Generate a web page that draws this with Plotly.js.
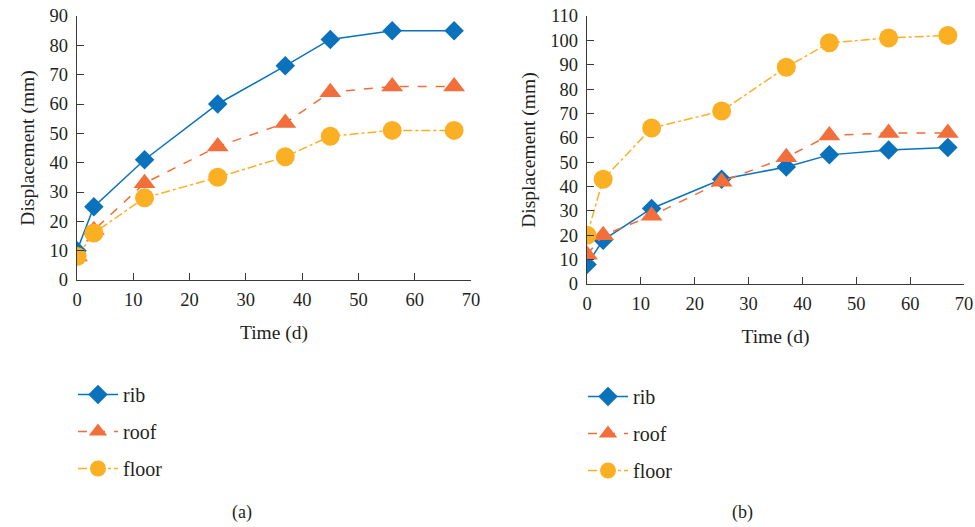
<!DOCTYPE html>
<html>
<head>
<meta charset="utf-8">
<script src="https://cdn.plot.ly/plotly-3.0.1.min.js"></script>
<style>html,body{margin:0;padding:0;background:#fff;}#chart{width:975px;height:527px;}</style>
</head>
<body>
<div id="chart"></div>
<script>
// Data
const timeDays = [0, 3, 12, 25, 37, 45, 56, 67];
// Panel (a)
const ribA   = [10, 25, 41, 60, 73, 82, 85, 85];
const roofA  = [8, 17, 33, 45.5, 53.5, 64, 66, 66];
const floorA = [8, 16, 28, 35, 42, 49, 51, 51];
// Panel (b)
const ribB   = [8, 18, 31, 43, 48, 53, 55, 56];
const roofB  = [12, 20, 28, 42, 52, 61, 62, 62];
const floorB = [20, 43, 64, 71, 89, 99, 101, 102];
const seriesNames = ['rib', 'roof', 'floor'];
const xTitle = 'Time (d)';
const yTitle = 'Displacement (mm)';
const captions = ['(a)', '(b)'];

const FONT = 'Liberation Serif, Times New Roman, serif';
const TXT = '#231f20';
const colors = ['#0a71bd', '#f26e3a', '#fbb024'];
const dashes = ['solid', 'dash', 'dashdot'];
const symbols = ['diamond', 'triangle-up', 'circle'];
const sizes = [15, 19, 19];

function mk(y, i, xa, ya, legend, grp) {
  return {
    x: timeDays, y: y, type: 'scatter', mode: 'lines+markers',
    name: seriesNames[i], xaxis: xa, yaxis: ya, legend: legend,
    legendgroup: grp + i,
    line: {color: colors[i], width: 1.5, dash: dashes[i]},
    marker: {symbol: symbols[i], size: sizes[i], color: colors[i]}
  };
}

const data = [
  mk(ribA, 0, 'x', 'y', 'legend', 'a'),
  mk(roofA, 1, 'x', 'y', 'legend', 'a'),
  mk(floorA, 2, 'x', 'y', 'legend', 'a'),
  mk(ribB, 0, 'x2', 'y2', 'legend2', 'b'),
  mk(roofB, 1, 'x2', 'y2', 'legend2', 'b'),
  mk(floorB, 2, 'x2', 'y2', 'legend2', 'b')
];

const tickFont = {family: FONT, size: 18.5, color: TXT};
function xax(domain, anchor) {
  return {
    domain: domain, anchor: anchor, range: [0, 70], dtick: 10, tick0: 0,
    showgrid: false, zeroline: false, showline: true, linecolor: '#3a3a3a', linewidth: 1.2,
    ticks: 'inside', ticklen: 7, tickcolor: '#3a3a3a', tickwidth: 1,
    tickfont: tickFont, ticklabelstandoff: 3,
    title: {text: xTitle, font: {family: FONT, size: 19.5, color: TXT}, standoff: 16},
    automargin: false, fixedrange: true
  };
}
function yax(domain, anchor, max) {
  return {
    domain: domain, anchor: anchor, range: [0, max], dtick: 10, tick0: 0,
    showgrid: false, zeroline: false, showline: true, linecolor: '#3a3a3a', linewidth: 1.2,
    ticks: 'inside', ticklen: 7, tickcolor: '#3a3a3a', tickwidth: 1,
    tickfont: tickFont, ticklabelstandoff: 4,
    title: {text: yTitle, font: {family: FONT, size: 19.5, color: TXT}, standoff: 9},
    automargin: false, fixedrange: true
  };
}

const legendBase = {
  font: {family: FONT, size: 20, color: TXT},
  bgcolor: 'rgba(0,0,0,0)', borderwidth: 0,
  orientation: 'v', itemwidth: 40, tracegroupgap: 8,
  xanchor: 'left', yanchor: 'top', itemclick: false
};

const layout = {
  width: 975, height: 527,
  margin: {l: 0, r: 0, t: 0, b: 0},
  paper_bgcolor: '#fff', plot_bgcolor: '#fff',
  showlegend: true,
  xaxis: xax([77/975, 471/975], 'y'),
  yaxis: yax([(527-280)/527, (527-16)/527], 'x', 90),
  xaxis2: xax([587/975, 964/975], 'y2'),
  yaxis2: yax([(527-284)/527, (527-16)/527], 'x2', 110),
  legend: Object.assign({}, legendBase, {x: 73/975, y: 1 - 375/527}),
  legend2: Object.assign({}, legendBase, {x: 583/975, y: 1 - 377/527}),
  annotations: [
    {text: captions[0], x: 242/975, y: 1 - 512/527, xref: 'paper', yref: 'paper', showarrow: false,
     font: {family: FONT, size: 18, color: TXT}, xanchor: 'center', yanchor: 'middle'},
    {text: captions[1], x: 742/975, y: 1 - 512/527, xref: 'paper', yref: 'paper', showarrow: false,
     font: {family: FONT, size: 18, color: TXT}, xanchor: 'center', yanchor: 'middle'}
  ]
};

Plotly.newPlot('chart', data, layout, {staticPlot: true, displayModeBar: false});
</script>
</body>
</html>
